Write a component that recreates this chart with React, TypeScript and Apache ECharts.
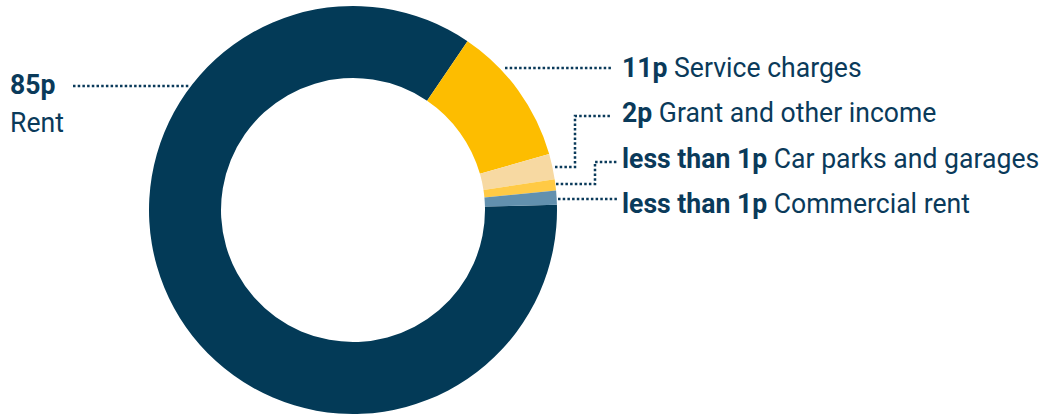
import React, { useEffect, useRef } from "react";
import * as echarts from "echarts";

const categories = [
  "Rent",
  "Service charges",
  "Grant and other income",
  "Car parks and garages",
  "Commercial rent",
];
const values = [84.9, 11.1, 2.0, 0.9, 1.1];
const valueLabels = ["85p", "11p", "2p", "less than 1p", "less than 1p"];
const sliceColors = ["#033A57", "#FDBD00", "#F7D9A2", "#FFCA45", "#6290AE"];

const TEXT_COLOR = "#0A3A5A";
const FONT = "Roboto";
const FS = 28;
const SCALE_X = 0.95;

// label anchor points (left x, middle y) and leader polylines
const labelPos: Array<[number, number]> = [
  [10, 85],
  [622, 68],
  [622, 113],
  [622, 159],
  [622, 204],
];
const leaders: Array<Array<[number, number]>> = [
  [[73, 86], [190, 86]],
  [[505, 68], [612, 68]],
  [[555, 167], [575, 167], [575, 116], [612, 116]],
  [[556, 184], [595, 184], [595, 162], [618, 162]],
  [[558, 199], [618, 199]],
];

export default function App() {
  const ref = useRef<HTMLDivElement>(null);
  useEffect(() => {
    if (!ref.current) return;
    const chart = echarts.init(ref.current, null, { renderer: "svg" });
    const graphics: any[] = [];
    leaders.forEach((pts) => {
      graphics.push({
        type: "polyline",
        silent: true,
        shape: { points: pts },
        style: {
          stroke: TEXT_COLOR,
          lineWidth: 2.5,
          lineDash: [2.5, 2.2],
          fill: null,
        },
      });
    });
    const rich = {
      b: { fontFamily: FONT, fontSize: FS, fontWeight: "bold", fill: TEXT_COLOR },
      n: { fontFamily: FONT, fontSize: FS, fill: TEXT_COLOR },
    };
    categories.forEach((name, i) => {
      const [x, y] = labelPos[i];
      const texts =
        i === 0
          ? [
              { t: `{b|${valueLabels[i]}}`, y },
              { t: `{n|${name}}`, y: y + 38 },
            ]
          : [{ t: `{b|${valueLabels[i]}}{n| ${name}}`, y }];
      texts.forEach((tx) => {
        graphics.push({
          type: "text",
          x,
          y: tx.y,
          scaleX: SCALE_X,
          silent: true,
          style: {
            text: tx.t,
            rich,
            verticalAlign: "middle",
            align: "left",
          },
        });
      });
    });
    chart.setOption({
      animation: false,
      backgroundColor: "#ffffff",
      series: [
        {
          type: "pie",
          radius: [132, 204],
          center: [353, 210],
          startAngle: 1.5,
          clockwise: true,
          silent: true,
          label: { show: false },
          labelLine: { show: false },
          emphasis: { disabled: true },
          data: categories.map((name, i) => ({
            name,
            value: values[i],
            itemStyle: { color: sliceColors[i] },
          })),
        },
      ],
      graphic: graphics,
    });
    return () => chart.dispose();
  }, []);
  return (
    <div
      ref={ref}
      style={{ position: "absolute", left: 0, top: 0, width: 1045, height: 414 }}
    />
  );
}
